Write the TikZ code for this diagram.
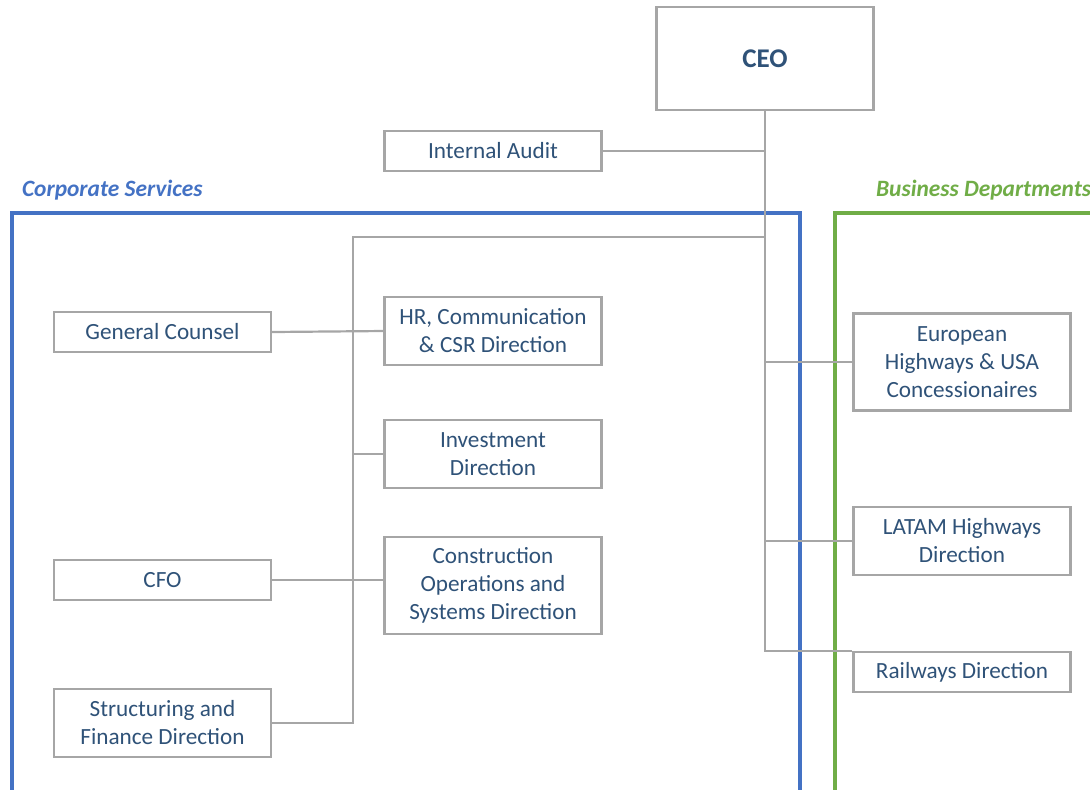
\documentclass[tikz,border=0pt]{standalone}
\usepackage{fontspec}
\setmainfont{Carlito}
\definecolor{orgText}{RGB}{47,82,120}
\definecolor{orgLine}{RGB}{166,166,166}
\definecolor{corpBlue}{RGB}{68,114,196}
\definecolor{busGreen}{RGB}{112,173,71}
\usetikzlibrary{positioning,calc}

\begin{document}
\begin{tikzpicture}[x=0.5pt, y=-0.5pt,
  unit/.style={draw=orgLine, line width=1.2pt, fill=white, text=orgText,
               align=center, inner sep=2pt, minimum width=108.5pt,
               font=\fontsize{11.6}{14}\selectfont},
  link/.style={draw=orgLine, line width=1.1pt},
  group/.style={line width=1.6pt},
  grouplabel/.style={anchor=west, font=\fontsize{11.7}{13}\selectfont\bfseries\itshape}
]
  \useasboundingbox (0,0) rectangle (1090,789);

  % group frames
  \draw[group, draw=corpBlue]  (12,800) |- (800,213) -- (800,800);
  \draw[group, draw=busGreen]  (835,800) |- (1100,213);
  \node[grouplabel, text=corpBlue] (corp) at (15,190)  {Corporate Services};
  \node[grouplabel, text=busGreen] (bus)  at (869,190) {Business Departments};

  % units
  \node[unit, minimum height=51.5pt, font=\fontsize{13.5}{16}\selectfont\bfseries]
                                   (ceo)   at (765,58.5) {CEO};
  \node[unit, minimum height=20pt] (audit) at (493,151)   {Internal Audit};
  \node[unit, minimum height=20pt] (gc)    at (162.5,332) {General Counsel};
  \node[unit, minimum height=34pt] (hr)    at (493,331)   {HR, Communication\\\& CSR Direction};
  \node[unit, minimum height=34pt] (inv)   at (493,454)   {Investment\\Direction};
  \node[unit, minimum height=20pt] (cfo)   at (162.5,580) {CFO};
  \node[unit, minimum height=48.5pt] (cons) at (493,585.5) {Construction\\Operations and\\Systems Direction};
  \node[unit, minimum height=34pt] (sfd)   at (162.5,723) {Structuring and\\Finance Direction};
  \node[unit, minimum height=48.5pt] (eu)  at (962,362)   {European\\Highways \& USA\\Concessionaires};
  \node[unit, minimum height=34pt] (latam) at (962,541)   {LATAM Highways\\Direction};
  \node[unit, minimum height=20pt] (rail)  at (962,672)   {Railways Direction};

  \coordinate (csbus) at (353,237);

  % connectors
  \draw[link] (ceo.south) |- (rail.north west);
  \draw[link] (audit.east) -- (audit.east -| ceo.south);
  \draw[link] (ceo.south |- csbus) -- (csbus) |- (sfd.east);
  \draw[link] (gc.east) -- (hr.west);
  \draw[link] (csbus |- inv.west) -- (inv.west);
  \draw[link] (cfo.east) -- (cfo.east -| cons.west);
  \draw[link] (ceo.south |- eu.west) -- (eu.west);
  \draw[link] (ceo.south |- latam.west) -- (latam.west);
\end{tikzpicture}
\end{document}
